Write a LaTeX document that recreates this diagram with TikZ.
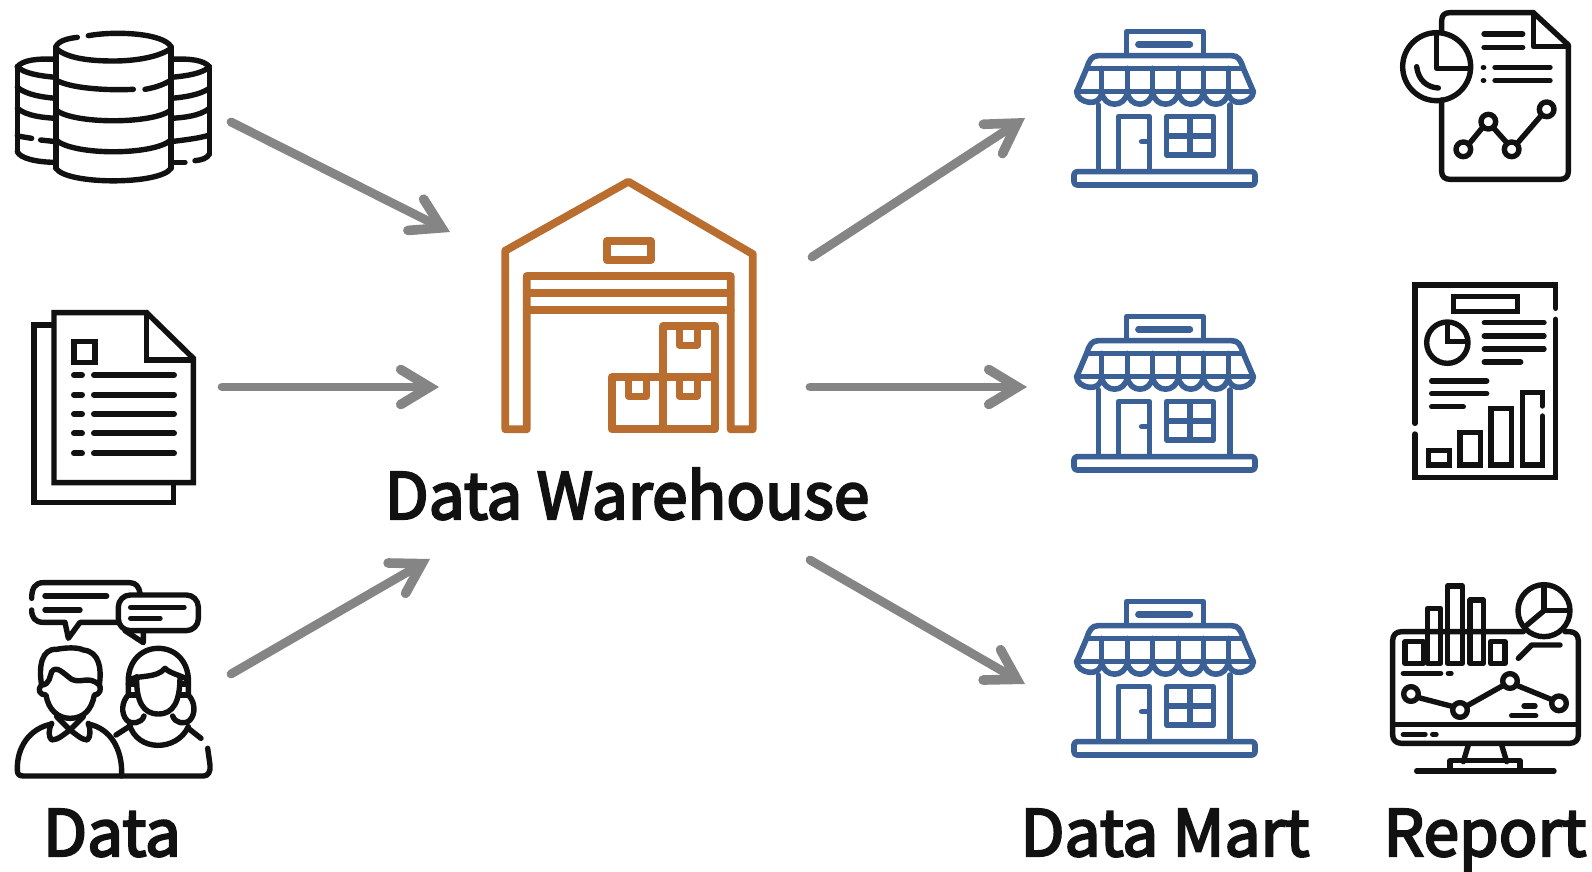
\documentclass[tikz,border=0pt]{standalone}
\usepackage{fontspec}
\setmainfont{Noto Sans}
\newfontfamily\labfont[FakeBold=3.5]{Noto Sans CJK KR}
\usetikzlibrary{arrows.meta}
\definecolor{wh}{HTML}{B96E30}
\definecolor{st}{HTML}{3B6096}
\definecolor{ink}{HTML}{111111}
\definecolor{arr}{HTML}{858585}
\tikzset{
  ico/.style={line width=2.7pt,line cap=round,line join=round,draw=ink},
  zoomed/.style={x=0.16667pt,y=-0.16667pt},
  flow/.style={draw=arr,line width=4.4pt,line cap=round,-{Straight Barb[line cap=round,line join=miter,length=14.5pt,width=17.5pt,line width=4.8pt]}},
  lab/.style={anchor=base,font=\labfont\fontsize{32}{32}\selectfont,text=ink,inner sep=0pt}
}
\newcommand{\storeicon}[1]{%
\begin{scope}[shift={(1050,#1)},zoomed,ico,draw=st,line width=2.8pt]
  \draw (230,135)--(230,65)--(460,65)--(460,135);
  \draw[line width=3.2pt] (265,103)--(420,103);
  \draw (80,245)--(110,175) .. controls (118,150) and (125,137) .. (145,137)--(545,137) .. controls (565,137) and (572,150) .. (580,175)--(610,245);
  \draw (110,175)--(580,175);
  \draw (80,245)--(610,245);
  \foreach \x in {155,232,308,385,460,535}{\draw (\x,175)--(\x,245);}
  \draw (80,245) .. controls (80,280) and (155,295) .. (155,245)
        .. controls (160,295) and (227,295) .. (232,245)
        .. controls (237,295) and (303,295) .. (308,245)
        .. controls (313,295) and (380,295) .. (385,245)
        .. controls (390,295) and (455,295) .. (460,245)
        .. controls (465,295) and (530,295) .. (535,245)
        .. controls (535,295) and (610,280) .. (610,245);
  \draw (145,285)--(145,482);
  \draw (540,285)--(540,482);
  \draw (205,482)--(205,320)--(298,320)--(298,482);
  \draw (275,395)--(295,395);
  \draw (350,320) rectangle (490,435);
  \draw (420,320)--(420,435);
  \draw (350,378)--(490,378);
  \draw[rounded corners=1.5pt] (72,485) rectangle (615,525);
\end{scope}}
\begin{document}
\begin{tikzpicture}[x=0.5pt,y=-0.5pt]
\useasboundingbox (0,0) rectangle (1592,872);
\fill[white] (0,0) rectangle (1592,872);

% database
\begin{scope}[shift={(0,0)},zoomed,ico]
  \draw (168,145) .. controls (200,175) and (270,183) .. (340,183) .. controls (410,183) and (480,170) .. (513,145);
  \draw (168,140) .. controls (175,122) and (205,115) .. (232,112);
  \draw (265,107) .. controls (350,92) and (490,100) .. (513,140);
  \draw (168,140)--(168,505);
  \draw (513,140)--(513,505);
  \draw (168,240) .. controls (210,265) and (320,272) .. (400,268);
  \draw (435,268) .. controls (470,262) and (495,252) .. (513,240);
  \draw (168,330) .. controls (220,373) and (460,373) .. (513,330);
  \draw (168,420) .. controls (220,467) and (460,467) .. (513,420);
  \draw (168,505) .. controls (200,555) and (480,555) .. (513,505);
  \draw (168,178) .. controls (110,175) and (70,180) .. (52,200);
  \draw (52,200) .. controls (70,220) and (120,228) .. (168,232);
  \draw (52,200)--(52,455);
  \draw (52,262) .. controls (80,285) and (130,292) .. (168,295);
  \draw (52,325) .. controls (80,348) and (130,353) .. (168,355);
  \draw (52,408)--(95,415);
  \draw (122,420)--(168,425);
  \draw (52,455) .. controls (60,475) and (110,487) .. (168,487);
  \draw (513,178) .. controls (570,175) and (610,180) .. (628,200);
  \draw (628,200) .. controls (610,220) and (560,228) .. (513,232);
  \draw (628,200)--(628,462);
  \draw (628,265) .. controls (600,285) and (550,292) .. (513,295);
  \draw (628,325) .. controls (600,348) and (550,353) .. (513,355);
  \draw (628,405) .. controls (600,415) and (550,420) .. (513,425);
  \draw (513,487)--(555,487);
  \draw (585,482) .. controls (605,480) and (622,475) .. (628,462);
\end{scope}

% documents
\begin{scope}[shift={(0,290)},zoomed,ico,line join=miter]
  \draw (160,105)--(102,105)--(102,638)--(520,638)--(520,578);
  \draw (162,68)--(440,68)--(580,205)--(580,578)--(162,578)--cycle;
  \draw (440,68)--(440,210)--(580,210);
  \draw (222,155) rectangle (285,218);
  \foreach \y in {255,314,372,430,490}{
    \draw[line width=3pt] (222,\y)--(246,\y);
    \draw[line width=3pt] (282,\y)--(522,\y);
  }
\end{scope}

% people
\begin{scope}[shift={(0,560)},zoomed,ico]
  \draw (95,115) .. controls (95,85) and (105,68) .. (130,68)--(390,68) .. controls (408,68) and (418,82) .. (420,100);
  \draw (95,150) .. controls (95,172) and (105,187) .. (130,187)--(195,187)--(205,235)--(240,187)--(355,187);
  \draw (135,108)--(320,108);
  \draw (135,150)--(240,150);
  \draw[rounded corners=6pt] (355,105) rectangle (595,212);
  \draw (375,212)--(430,248)--(430,212);
  \draw (392,142)--(552,142);
  \draw (392,175)--(480,175);
  % man
  \draw (125,375) .. controls (115,320) and (125,265) .. (170,268) .. controls (200,262) and (235,262) .. (250,270) .. controls (300,275) and (305,330) .. (298,375);
  \draw (125,375) .. controls (150,375) and (150,345) .. (155,335) .. controls (170,315) and (190,340) .. (215,358) .. controls (245,372) and (265,345) .. (298,375);
  \draw (125,375) .. controls (110,390) and (120,405) .. (138,405) .. controls (145,450) and (175,475) .. (210,475) .. controls (250,475) and (275,450) .. (283,405) .. controls (300,405) and (305,385) .. (298,375);
  \draw (170,470)--(210,510)--(250,470);
  \draw (155,490) .. controls (145,510) and (145,530) .. (155,540) .. controls (175,540) and (195,520) .. (210,510) .. controls (225,520) and (245,540) .. (262,540) .. controls (272,530) and (272,510) .. (265,490);
  \draw (155,492) .. controls (90,505) and (50,560) .. (52,630) .. controls (52,640) and (55,648) .. (70,648)--(610,648) .. controls (625,648) and (632,635) .. (630,615)--(623,565);
  \draw (265,492) .. controls (330,505) and (368,565) .. (365,648);
  % woman
  \draw (432,468) .. controls (425,490) and (395,495) .. (380,480) .. controls (362,460) and (365,425) .. (385,405)--(385,375) .. controls (380,310) and (420,265) .. (475,265) .. controls (530,265) and (570,310) .. (565,375)--(565,405) .. controls (585,425) and (588,460) .. (570,480) .. controls (555,495) and (525,490) .. (518,468);
  \draw (390,358) .. controls (420,345) and (470,355) .. (495,325) .. controls (510,340) and (540,345) .. (562,358);
  \draw (410,350) .. controls (408,425) and (430,462) .. (475,462) .. controls (520,462) and (540,425) .. (540,350);
  \draw (385,372)--(410,372);
  \draw (385,405)--(412,405);
  \draw (565,372)--(540,372);
  \draw (565,405)--(538,405);
  \draw (388,492) .. controls (410,576) and (530,576) .. (565,500);
  \draw (390,498)--(348,525);
  \draw (565,505)--(603,535);
\end{scope}

% warehouse
\begin{scope}[shift={(480,160)},zoomed,ico,draw=wh,line width=3.9pt]
  \draw (76,808)--(76,272)--(445,65)--(818,282)--(818,808)--(752,808)--(752,348)--(140,348)--(140,808)--cycle;
  \draw (140,398)--(752,398);
  \draw (140,450)--(752,450);
  \draw (380,243) rectangle (512,300);
  \draw (395,652) rectangle (550,808);
  \draw (550,652) rectangle (705,808);
  \draw (550,498) rectangle (705,652);
  \draw[line width=3.5pt] (445,652)--(445,708)--(500,708)--(500,652);
  \draw[line width=3.5pt] (597,652)--(597,708)--(652,708)--(652,652);
  \draw[line width=3.5pt] (597,498)--(597,555)--(652,555)--(652,498);
\end{scope}

% stores
\storeicon{10}
\storeicon{295}
\storeicon{580}

% report 1
\begin{scope}[shift={(1370,0)},zoomed,ico]
  \draw (215,95)--(215,62) .. controls (215,45) and (225,38) .. (240,38)--(490,38)--(595,135)--(595,515) .. controls (595,530) and (585,538) .. (570,538)--(240,538) .. controls (225,538) and (215,530) .. (215,515)--(215,300);
  \draw (490,38)--(490,140)--(595,140);
  \draw (200,200) circle (102);
  \draw (200,105)--(200,205)--(298,205);
  \draw (140,200) .. controls (145,240) and (170,262) .. (205,264);
  \draw (342,102)--(458,102);
  \draw (342,142)--(458,142);
  \draw (340,202)--(341,202);
  \draw (340,242)--(341,242);
  \draw (375,202)--(540,202);
  \draw (375,242)--(540,242);
  \draw (297,432)--(338,382);
  \draw (369,382)--(412,430);
  \draw (440,432)--(515,345);
  \draw (280,448) circle (22);
  \draw (355,365) circle (22);
  \draw (425,448) circle (22);
  \draw (530,328) circle (22);
\end{scope}

% report 2
\begin{scope}[shift={(1390,270)},zoomed,ico,line join=miter]
  \draw (75,460)--(75,45)--(497,45)--(497,115);
  \draw (497,148)--(497,622)--(75,622)--(75,492);
  \draw (190,80) rectangle (382,125);
  \draw (172,218) circle (62);
  \draw (172,160)--(172,215)--(232,215);
  \draw (283,158)--(462,158);
  \draw (283,198)--(462,198);
  \draw (283,237)--(462,237);
  \draw (283,276)--(392,276);
  \draw (125,333)--(290,333);
  \draw (125,371)--(290,371);
  \draw (125,410)--(220,410);
  \draw (115,542) rectangle (178,585);
  \draw (210,487) rectangle (272,585);
  \draw (303,415) rectangle (365,585);
  \draw (457,408)--(457,368)--(397,368)--(397,585)--(457,585)--(457,438);
\end{scope}

% report 3
\begin{scope}[shift={(1370,570)},zoomed,ico]
  \draw (460,185)--(95,185) .. controls (78,185) and (68,195) .. (68,212)--(68,495) .. controls (68,510) and (78,520) .. (95,520)--(598,520) .. controls (615,520) and (625,510) .. (625,495)--(625,212) .. controls (625,195) and (615,185) .. (598,185)--(585,185);
  \draw (68,463)--(625,463);
  \draw (295,525)--(280,575);
  \draw (395,525)--(410,575);
  \draw (240,595)--(240,572)--(450,572)--(450,595);
  \draw (140,603)--(552,603);
  \draw (105,280) rectangle (160,215);
  \draw (172,280) rectangle (212,115);
  \draw (232,280) rectangle (277,48);
  \draw (300,280) rectangle (340,90);
  \draw (362,280) rectangle (405,215);
  \draw (522,122) circle (78);
  \draw (522,45)--(522,122)--(597,122);
  \draw (522,122)--(465,170);
  \draw (143,382)--(250,410);
  \draw (290,408)--(402,345);
  \draw (438,345)--(548,390);
  \draw (123,372) circle (22);
  \draw (270,420) circle (22);
  \draw (420,333) circle (22);
  \draw (567,400) circle (22);
  \draw (100,310)--(212,310);
  \draw (235,310)--(243,310);
  \draw (462,408)--(495,408);
  \draw (425,437)--(497,437);
  \draw (100,493)--(165,493);
  \draw (188,493)--(198,493);
  \draw (445,265)--(485,225)--(570,225);
\end{scope}

% arrow ends
\coordinate (srcA) at (231,122);
\coordinate (srcB) at (222,387);
\coordinate (srcC) at (231,674);
\coordinate (inA) at (450,232);
\coordinate (inB) at (439,387);
\coordinate (inC) at (430,559);
\coordinate (outA) at (812,257);
\coordinate (outB) at (810,387);
\coordinate (outC) at (810,560);
\coordinate (martA) at (1025,118);
\coordinate (martB) at (1027,387);
\coordinate (martC) at (1025,684);
\draw[flow] (srcA)--(inA);
\draw[flow] (srcB)--(inB);
\draw[flow] (srcC)--(inC);
\draw[flow] (outA)--(martA);
\draw[flow] (outB)--(martB);
\draw[flow] (outC)--(martC);

% labels
\node[lab] (lblWarehouse) at (627,519) {Data Warehouse};
\node[lab] (lblData) at (112,856) {Data};
\node[lab] (lblMart) at (1165,856) {Data Mart};
\node[lab] (lblReport) at (1485,856) {Report};
\end{tikzpicture}
\end{document}
